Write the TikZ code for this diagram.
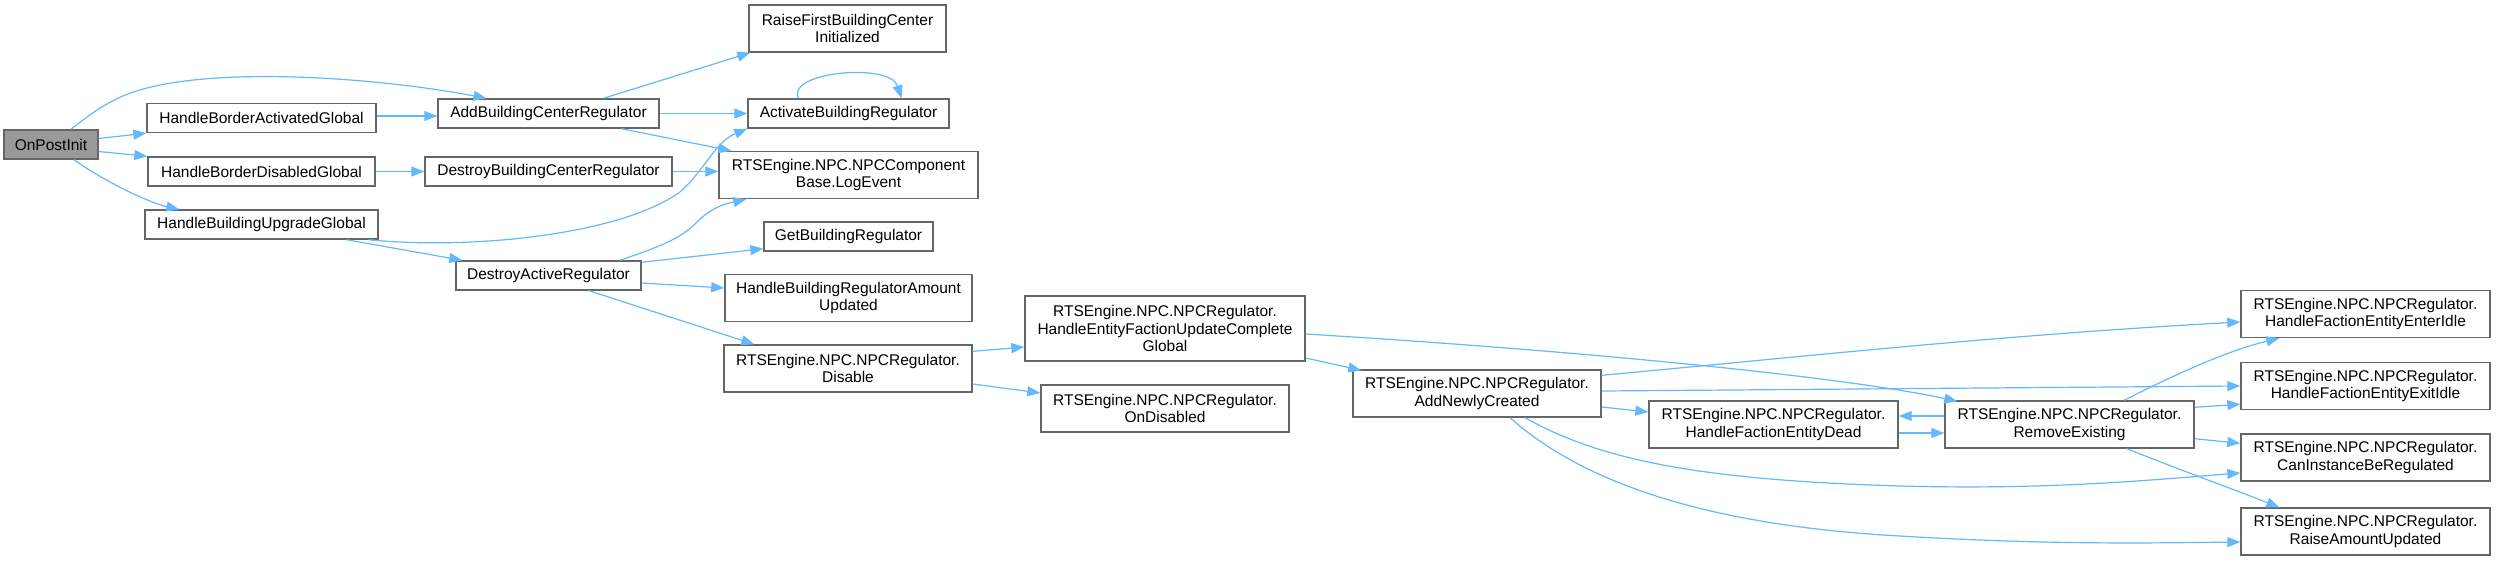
\documentclass[tikz,border=0pt]{standalone}
\usepackage{fontspec}
\setmainfont{Liberation Sans}
\usetikzlibrary{arrows.meta,calc}
\definecolor{edgeblue}{HTML}{63B8FF}
\definecolor{boxgray}{HTML}{666666}
\definecolor{fillgray}{HTML}{999999}
\begin{document}
\begin{tikzpicture}[x=1pt,y=-1pt,
  fn/.style={draw=boxgray, line width=1.4pt, fill=white, inner sep=0pt, align=center,
    font=\fontsize{15.5}{17.5}\selectfont, text=black},
  root/.style={fn, fill=fillgray},
  call/.style={draw=edgeblue, line width=1.2pt, -{Triangle[length=13pt,width=10pt]}},
]
\fill[white] (0,0) rectangle (2496,560);
\useasboundingbox (0,0) rectangle (2496,560);

% nodes
\node[root, minimum width=94pt, minimum height=29pt] (onpost) at (51,144.5) {OnPostInit};
\node[fn, minimum width=229pt, minimum height=29pt] (hbag) at (261.5,118) {HandleBorderActivatedGlobal};
\node[fn, minimum width=227pt, minimum height=29pt] (hbdg) at (261.5,171.5) {HandleBorderDisabledGlobal};
\node[fn, minimum width=233pt, minimum height=29pt] (hbug) at (261.5,224.5) {HandleBuildingUpgradeGlobal};
\node[fn, minimum width=221pt, minimum height=29pt] (abcr) at (548.5,113.5) {AddBuildingCenterRegulator};
\node[fn, minimum width=247pt, minimum height=29pt] (dbcr) at (548.5,171.5) {DestroyBuildingCenterRegulator};
\node[fn, minimum width=185pt, minimum height=29pt] (dar) at (548.5,275.5) {DestroyActiveRegulator};
\node[fn, minimum width=197pt, minimum height=47pt] (rfbci) at (847.5,28.5) {RaiseFirstBuildingCenter\\Initialized};
\node[fn, minimum width=201pt, minimum height=29pt] (abr) at (848.5,113.5) {ActivateBuildingRegulator};
\node[fn, minimum width=259pt, minimum height=47pt] (log) at (848.5,175) {RTSEngine.NPC.NPCComponent\\Base.LogEvent};
\node[fn, minimum width=169pt, minimum height=29pt] (gbr) at (848.5,236.5) {GetBuildingRegulator};
\node[fn, minimum width=247pt, minimum height=47pt] (hbrau) at (848.5,298) {HandleBuildingRegulatorAmount\\Updated};
\node[fn, minimum width=248pt, minimum height=47pt] (dis) at (848,368.5) {RTSEngine.NPC.NPCRegulator.\\Disable};
\node[fn, minimum width=280pt, minimum height=65pt] (hefucg) at (1165,328.5) {RTSEngine.NPC.NPCRegulator.\\HandleEntityFactionUpdateComplete\\Global};
\node[fn, minimum width=248pt, minimum height=47pt] (ondis) at (1165,408.5) {RTSEngine.NPC.NPCRegulator.\\OnDisabled};
\node[fn, minimum width=248pt, minimum height=47pt] (anc) at (1477,393.5) {RTSEngine.NPC.NPCRegulator.\\AddNewlyCreated};
\node[fn, minimum width=249pt, minimum height=47pt] (hfed) at (1773.5,424.5) {RTSEngine.NPC.NPCRegulator.\\HandleFactionEntityDead};
\node[fn, minimum width=249pt, minimum height=47pt] (rem) at (2069.5,424.5) {RTSEngine.NPC.NPCRegulator.\\RemoveExisting};
\node[fn, minimum width=249pt, minimum height=47pt] (enter) at (2365.5,314) {RTSEngine.NPC.NPCRegulator.\\HandleFactionEntityEnterIdle};
\node[fn, minimum width=249pt, minimum height=47pt] (exit) at (2365.5,386) {RTSEngine.NPC.NPCRegulator.\\HandleFactionEntityExitIdle};
\node[fn, minimum width=249pt, minimum height=47pt] (can) at (2365.5,457.5) {RTSEngine.NPC.NPCRegulator.\\CanInstanceBeRegulated};
\node[fn, minimum width=249pt, minimum height=47pt] (raise) at (2365.5,531.5) {RTSEngine.NPC.NPCRegulator.\\RaiseAmountUpdated};

% edges
\draw[call] ($(onpost.north)+(20,0)$) .. controls (95,110) and (115,97) .. (140,90)
  .. controls (220,66) and (380,78) .. ($(abcr.north)+(-62,0)$);
\draw[call] ($(onpost.east)+(0,-6)$) -- (hbag.south west);
\draw[call] ($(onpost.east)+(0,7)$) -- (hbdg.north west);
\draw[call] ($(onpost.south)+(23,0)$) .. controls (105,182) and (150,203) .. ($(hbug.north west)+(35,0)$);
\draw[call] ($(hbag.east)+(0,-2)$) -- ($(abcr.west)+(0,2.5)$);
\draw[call] (hbdg.east) -- (hbdg.east -| dbcr.west);
\draw[call] ($(hbug.south east)+(-10,0)$) .. controls (470,250) and (620,235) .. (680,192)
  .. controls (705,170) and (715,142) .. ($(abr.south west)+(0,0)$);
\draw[call] ($(hbug.south)+(85,0)$) -- ($(dar.north west)+(7,0)$);
\draw[call] ($(abcr.north)+(55,0)$) -- ($(rfbci.south west)+(2,0)$);
\draw[call] (abcr.east) -- (abcr.east -| abr.west);
\draw[call] ($(abcr.south)+(73,0)$) -- ($(log.north west)+(13,0)$);
\draw[call] ($(abr.north)+(-50,0)$) .. controls (785,72) and (890,62) .. ($(abr.north)+(53,0)$);
\draw[call] (dbcr.east) -- (dbcr.east -| log.west);
\draw[call] ($(dar.north)+(71.5,0)$) .. controls (655,248) and (680,240) .. (697,222)
  .. controls (712,207) and (725,204) .. ($(log.south west)+(28,0)$);
\draw[call] ($(dar.north east)+(0,2)$) -- ($(gbr.south west)+(0,-3)$);
\draw[call] ($(dar.east)+(0,7.5)$) -- ($(hbrau.west)+(0,-10)$);
\draw[call] ($(dar.south)+(40.5,0)$) -- ($(dis.north west)+(31,0)$);
\draw[call] ($(dis.north east)+(0,7)$) -- ($(hefucg.west)+(0,18.5)$);
\draw[call] ($(dis.east)+(0,15.5)$) -- ($(ondis.west)+(0,-15.5)$);
\draw[call] ($(hefucg.east)+(0,29.5)$) -- ($(anc.north west)+(9,1)$);
\draw[call] ($(hefucg.east)+(0,5.5)$) .. controls (1600,352) and (1850,378) .. ($(rem.north west)+(13,1)$);
\draw[call] ($(anc.north east)+(0,6)$) .. controls (1800,357) and (2000,335) .. ($(enter.west)+(0,8)$);
\draw[call] ($(anc.east)+(0,-2.5)$) -- (exit.west);
\draw[call] ($(anc.east)+(0,13.5)$) -- ($(hfed.west)+(0,-12.5)$);
\draw[call] ($(anc.south)+(48,0)$) .. controls (1600,460) and (1700,480) .. (1900,486)
  .. controls (2050,490) and (2150,480) .. ($(can.west)+(0,15.5)$);
\draw[call] ($(anc.south)+(33,0)$) .. controls (1580,480) and (1700,525) .. (1900,536)
  .. controls (2050,545) and (2150,543) .. ($(raise.west)+(0,10.5)$);
\draw[call] ($(hfed.east)+(0,8.5)$) -- ($(rem.west)+(0,8.5)$);
\draw[call] ($(rem.west)+(0,-8.5)$) -- ($(hfed.east)+(0,-8.5)$);
\draw[call] ($(rem.north)+(54.5,0)$) .. controls (2180,372) and (2230,350) .. ($(enter.south west)+(39,0)$);
\draw[call] ($(rem.north east)+(0,7)$) -- ($(exit.south west)+(0,-6)$);
\draw[call] ($(rem.south east)+(0,-10)$) -- ($(can.north west)+(0,10)$);
\draw[call] ($(rem.south)+(57.5,0)$) .. controls (2180,470) and (2230,488) .. ($(raise.north west)+(39,0)$);
\end{tikzpicture}
\end{document}
